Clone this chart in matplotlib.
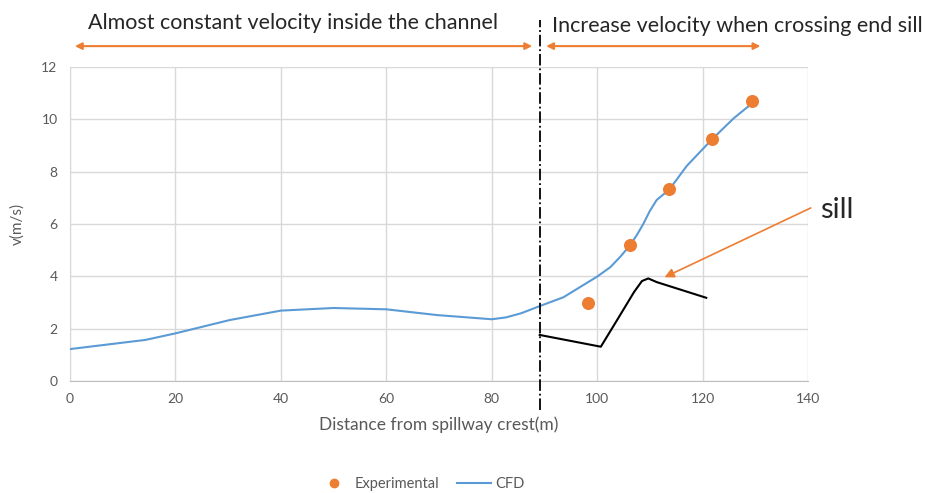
import matplotlib.pyplot as plt
from matplotlib.lines import Line2D

plt.rcParams['font.family'] = ['Lato', 'DejaVu Sans']

# CFD velocity profile
cfd_x = [0, 14.3, 20, 30.3, 40, 50, 60, 69.6, 80, 82.7, 85.6, 89.2, 93.6, 100,
         102.5, 104.4, 106.2, 107.6, 108.8, 110, 111.3, 113.7, 117, 121.8, 125.9, 129]
cfd_v = [1.22, 1.57, 1.82, 2.33, 2.69, 2.79, 2.74, 2.52, 2.36, 2.43, 2.59, 2.87,
         3.2, 3.99, 4.35, 4.75, 5.18, 5.6, 6.02, 6.5, 6.92, 7.32, 8.22, 9.24, 10.04, 10.55]

# experimental points
exp_x = [98.2, 106.2, 113.7, 121.8, 129.3]
exp_v = [2.97, 5.18, 7.32, 9.24, 10.7]

# sill profile (black)
sill_x = [89.1, 100.7, 104, 107, 108.5, 109.7, 111.3, 120.7]
sill_y = [1.76, 1.31, 2.4, 3.4, 3.82, 3.92, 3.78, 3.18]

sill_start = 89.2
txt_gray = '#595959'
orange = '#ED7D31'
blue = '#5B9BD5'

fig = plt.figure(figsize=(9.25, 4.93), dpi=100)
ax = fig.add_axes([0.0757, 0.2272, 0.7978, 0.6368])

ax.plot(cfd_x, cfd_v, color=blue, lw=1.5, label='CFD', zorder=3)
ax.scatter(exp_x, exp_v, s=70, color=orange, label='Experimental', zorder=4)
ax.plot(sill_x, sill_y, color='black', lw=1.5, zorder=3)

ax.set_xlim(0, 140)
ax.set_ylim(0, 12)
ax.set_xticks(range(0, 141, 20))
ax.set_yticks(range(0, 13, 2))
ax.grid(True, color='#D9D9D9', lw=1)
ax.set_axisbelow(True)
ax.tick_params(length=0, labelsize=10, colors=txt_gray, pad=9)
for s in ['top', 'right']:
    ax.spines[s].set_visible(False)
ax.spines['left'].set_color('#D9D9D9')
ax.spines['bottom'].set_color('#BFBFBF')
ax.set_xlabel('Distance from spillway crest(m)', fontsize=12.5, color=txt_gray, labelpad=8)
ax.set_ylabel('v(m/s)', fontsize=11, color=txt_gray, labelpad=12)

# separating dash-dot line
ax.plot([sill_start, sill_start], [-1.1, 13.8], color='black', ls='-.', lw=1.3,
        clip_on=False, zorder=5)

# region arrows
arr = dict(arrowstyle='<|-|>', color=orange, lw=1.5, mutation_scale=10)
ax.annotate('', xy=(0.4, 12.8), xytext=(88.2, 12.8), arrowprops=arr, annotation_clip=False)
ax.annotate('', xy=(89.8, 12.8), xytext=(131.5, 12.8), arrowprops=arr, annotation_clip=False)
ax.text(3.4, 13.7, 'Almost constant velocity inside the channel', fontsize=15.5,
        color='#262626', va='center', ha='left')
ax.text(91.5, 13.55, 'Increase velocity when crossing end sill', fontsize=15.5,
        color='#262626', va='center', ha='left')

# sill pointer
ax.annotate('', xy=(112.3, 3.92), xytext=(141.0, 6.66),
            arrowprops=dict(arrowstyle='-|>', color=orange, lw=1.2, mutation_scale=14),
            annotation_clip=False)
ax.text(142.3, 6.55, 'sill', fontsize=21, color='#262626', va='center', ha='left')

handles = [Line2D([], [], marker='o', ls='none', color=orange, markersize=6),
           Line2D([], [], color=blue, lw=1.5)]
fig.legend(handles, ['Experimental', 'CFD'], loc='lower center', ncol=2,
           bbox_to_anchor=(0.455, -0.022), frameon=False, fontsize=10.5,
           labelcolor=txt_gray, handlelength=2.3, handletextpad=0.3,
           columnspacing=1.2)

fig.savefig('out.png', dpi=100)
